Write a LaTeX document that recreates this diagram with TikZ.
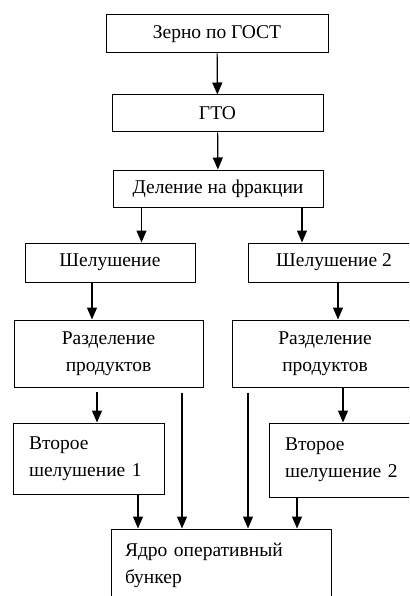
\documentclass[tikz,border=0pt]{standalone}
\usepackage{fontspec}
\setmainfont{Liberation Serif}
\usetikzlibrary{arrows.meta}

\tikzset{
    box/.style={draw,black,line width=1pt,inner sep=0pt,align=center,
        font=\fontsize{19.5}{27}\selectfont},
    lbox/.style={box,align=left,inner xsep=16pt},
    arr/.style={line width=1.2pt,-{Triangle[length=12pt,width=10pt]}},
}

\begin{document}
\begin{tikzpicture}[x=1pt,y=-1pt]
        \useasboundingbox (0,0) rectangle (409,596);
        \clip (0,0) rectangle (409,596);
        % main line
        \node[box,minimum width=222,minimum height=38] (zerno) at (217,34) {Зерно по ГОСТ};
        \node[box,minimum width=211,minimum height=37] (gto) at (217.5,113.5) {ГТО};
        \node[box,minimum width=210,minimum height=37] (frak) at (218,188.5) {Деление на фракции};
        % first branch
        \node[box,minimum width=170,minimum height=39] (shel1) at (110,262.5) {Шелушение};
        \node[box,minimum width=189,minimum height=67] (razd1) at (108.5,353.5) {Разделение\\продуктов};
        \node[lbox,minimum width=151,minimum height=71,text width=119] (vtor1) at (88.5,458.5) {Второе\\шелушение 1};
        % second branch
        \node[box,minimum width=172,minimum height=39] (shel2) at (334,262.5) {Шелушение 2};
        \node[box,minimum width=186,minimum height=67] (razd2) at (325,353.5) {Разделение\\продуктов};
        \node[lbox,minimum width=151,minimum height=74,text width=119] (vtor2) at (344.5,460) {Второе\\шелушение 2};
        % bunker
        \node[lbox,minimum width=220,minimum height=72,inner xsep=14pt,text width=192] (yadro) at (221,565) {Ядро оперативный\\бункер};

        \coordinate (c1) at (141.5,0);
        \coordinate (c2) at (302,0);
        \coordinate (c3) at (92,0);
        \coordinate (c4) at (338,0);
        \coordinate (c5) at (97,0);
        \coordinate (c6) at (343,0);
        \coordinate (c7) at (138,0);
        \coordinate (c8) at (182,0);
        \coordinate (c9) at (248,0);
        \coordinate (c10) at (297,0);

        \draw[arr] (zerno) -- (gto);
        \draw[arr] (gto) -- (frak);
        \draw[arr] (frak.south -| c1) -- (shel1.north -| c1);
        \draw[arr] (frak.south -| c2) -- (shel2.north -| c2);
        \draw[arr] (shel1.south -| c3) -- (razd1.north -| c3);
        \draw[arr] (shel2.south -| c4) -- (razd2.north -| c4);
        \draw[arr,shorten <=4pt] (razd1.south -| c5) -- (vtor1.north -| c5);
        \draw[arr] (razd2.south -| c6) -- (vtor2.north -| c6);
        % to bunker
        \draw[arr] (vtor1.south -| c7) -- (yadro.north -| c7);
        \draw[arr,shorten <=5pt] (razd1.south -| c8) -- (yadro.north -| c8);
        \draw[arr,shorten <=5pt] (razd2.south -| c9) -- (yadro.north -| c9);
        \draw[arr] (vtor2.south -| c10) -- (yadro.north -| c10);
    \end{tikzpicture}
\end{document}
